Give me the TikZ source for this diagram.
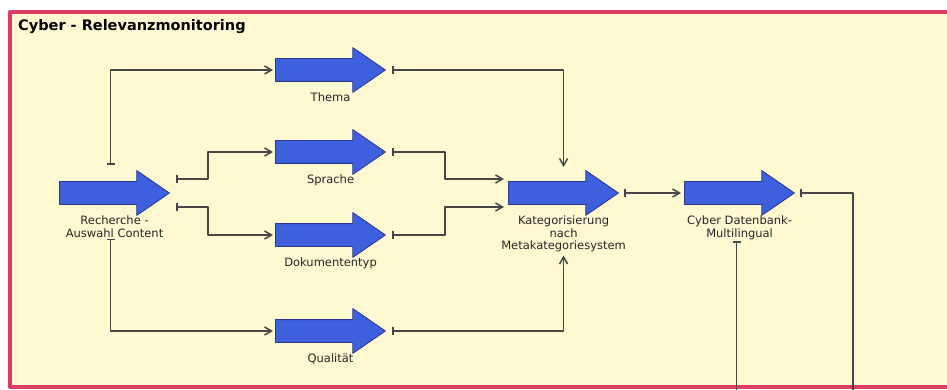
\documentclass[tikz,border=0pt]{standalone}
\usepackage{fontspec}
\setmainfont{DejaVu Sans}
\usetikzlibrary{shapes.arrows,arrows.meta,positioning,calc}
\definecolor{rahmen}{RGB}{222,62,102}
\definecolor{papier}{RGB}{255,249,210}
\definecolor{pfeilblau}{RGB}{62,95,222}
\definecolor{pfeilrand}{RGB}{40,55,140}
\definecolor{linie}{RGB}{70,70,70}
\tikzset{
schritt/.style={single arrow,draw=pfeilrand,fill=pfeilblau,line width=0.8pt,minimum height=110pt,text height=11pt,text depth=11pt,text width=0pt,single arrow head extend=11pt,single arrow tip angle=69,inner sep=0pt,anchor=tail},
beschr/.style={font=\fontsize{11.5}{12.5}\selectfont,text=black!85,align=center,inner sep=1pt,anchor=north},
fluss/.style={draw=linie,line width=1.7pt,{Bar[width=8pt,line width=1.5pt]}-{Straight Barb[length=7pt,width=8pt,line width=1.5pt]}},
nurbalken/.style={draw=linie,line width=1.7pt,{Bar[width=8pt,line width=1.5pt]}-}
}
\begin{document}
\begin{tikzpicture}[x=1pt,y=-1pt,line join=round]
\useasboundingbox (0,0) rectangle (947,390);
\fill[white] (0,0) rectangle (947,390);
\draw[rahmen,line width=4pt,fill=papier] (10,12) rectangle (970,387);
\node[anchor=base west,inner sep=0pt,font=\fontsize{14.5}{16}\selectfont\bfseries] (titel) at (18,31) {Cyber - Relevanzmonitoring};
% Schritte
\node[schritt] (recherche) at (59,193) {};
\node[beschr] (l-recherche) at ($(recherche.tail)!.5!(recherche.tip)+(0,22)$) {Recherche -\\Auswahl Content};
\foreach \n/\y/\t in {thema/70/Thema,sprache/152/Sprache,dokument/235/Dokumententyp,qualitaet/331/Qualität}{
  \node[schritt] (\n) at (275,\y) {};
  \node[beschr] (l-\n) at ($(\n.tail)!.5!(\n.tip)+(0,22)$) {\t};
}
\node[schritt] (kategorie) at (508,193) {};
\node[beschr] (l-kategorie) at ($(kategorie.tail)!.5!(kategorie.tip)+(0,22)$) {Kategorisierung\\nach\\Metakategoriesystem};
\node[schritt] (datenbank) at (684,193) {};
\node[beschr] (l-datenbank) at ($(datenbank.tail)!.5!(datenbank.tip)+(0,22)$) {Cyber Datenbank-\\Multilingual};
\coordinate (aus-rechts) at (853,392);
% Verbindungen
\draw[fluss] ($(recherche.tail)!.5!(recherche.tip)+(-4,-28)$) |- ([xshift=-2pt]thema.tail);
\draw[fluss] ([xshift=6pt,yshift=14pt]recherche.tip) -- ++(32,0) |- ([xshift=-2pt]sprache.tail);
\draw[fluss] ([xshift=6pt,yshift=-14pt]recherche.tip) -- ++(32,0) |- ([xshift=-2pt]dokument.tail);
\draw[fluss] ([xshift=-4pt]l-recherche.south) |- ([xshift=-2pt]qualitaet.tail);
\draw[fluss] ([xshift=6pt]thema.tip) -| ($(kategorie.tail)!.5!(kategorie.tip)+(0,-26)$);
\draw[fluss] ([xshift=6pt]sprache.tip) -- ++(53,0) |- ([xshift=-4pt,yshift=14pt]kategorie.tail);
\draw[fluss] ([xshift=6pt]dokument.tip) -- ++(53,0) |- ([xshift=-4pt,yshift=-14pt]kategorie.tail);
\draw[fluss] ([xshift=6pt]qualitaet.tip) -| ([yshift=-2pt]l-kategorie.south);
\draw[fluss] ([xshift=5pt]kategorie.tip) -- ([xshift=-3pt]datenbank.tail);
\draw[nurbalken] ([xshift=5pt]datenbank.tip) -| (aus-rechts);
\draw[nurbalken] ([xshift=-3pt]l-datenbank.south) -- ([xshift=-3pt]l-datenbank.south |- aus-rechts);
\end{tikzpicture}
\end{document}
